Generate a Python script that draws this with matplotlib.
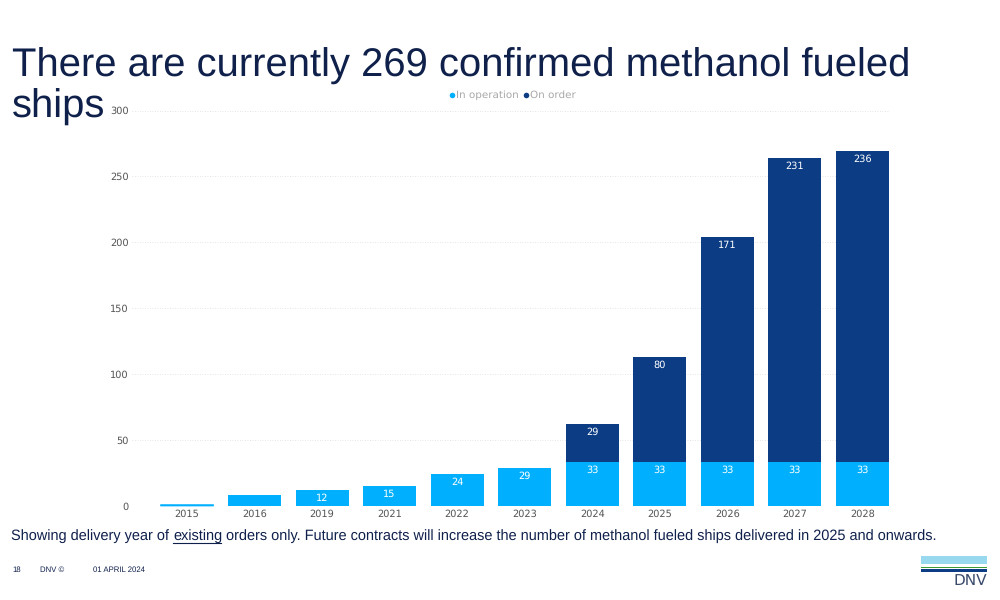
import matplotlib
matplotlib.use("Agg")
import numpy as np
import matplotlib.pyplot as plt
from matplotlib.patches import Rectangle

# hinted widths jump between font sizes, which made the long footnote hard to fit
plt.rcParams['text.hinting'] = 'none'

years = ['2015', '2016', '2019', '2021', '2022', '2023', '2024', '2025', '2026', '2027', '2028']
in_operation = [1, 8, 12, 15, 24, 29, 33, 33, 33, 33, 33]
on_order = [0, 0, 0, 0, 0, 0, 29, 80, 171, 231, 236]
# the two smallest bars have no label in the original
op_labels = ['', '', '12', '15', '24', '29', '33', '33', '33', '33', '33']
order_labels = ['', '', '', '', '', '', '29', '80', '171', '231', '236']
y_ticks = [0, 50, 100, 150, 200, 250, 300]

W, H = 1000, 600
LIGHT = '#00b0ff'
DARK = '#0b3c84'
NAVY = '#0f204b'
SANS = 'Liberation Sans'
CHART = 'DejaVu Sans'

fig = plt.figure(figsize=(10, 6), dpi=100, facecolor='white')

# axes placed in pixels: x 132-890, y=0 at 506, y=300 at 110.5
ax = fig.add_axes([132 / W, 1 - 506 / H, (890 - 132) / W, (506 - 110.5) / H])
ax.patch.set_alpha(0)
x = np.arange(len(years))
op_bars = ax.bar(x, in_operation, width=0.785, color=LIGHT, zorder=3)
# the 2015 bar is barely a pixel tall, an edge keeps it visibly blue
op_bars[0].set_edgecolor(LIGHT)
op_bars[0].set_linewidth(0.5)
op_bars[0].set_snap(False)
op_bars[0].set_clip_on(False)
# skip the empty on-order bars, they leave a dark hairline otherwise
has_order = [i for i in x if on_order[i] > 0]
ax.bar(has_order, [on_order[i] for i in has_order], width=0.785,
       bottom=[in_operation[i] for i in has_order], color=DARK, zorder=3)
ax.set_xlim(-0.815, 10.41)
ax.set_ylim(0, 300)

for i in x:
    if op_labels[i]:
        ax.annotate(op_labels[i], (i, in_operation[i]), xytext=(0, -3), textcoords='offset pixels',
                    ha='center', va='top', fontsize=7, color='white', family=CHART, zorder=4)
    if order_labels[i]:
        top = in_operation[i] + on_order[i]
        ax.annotate(order_labels[i], (i, top), xytext=(0, -3), textcoords='offset pixels',
                    ha='center', va='top', fontsize=7, color='white', family=CHART, zorder=4)

ax.set_xticks(x, years)
ax.set_yticks(y_ticks)
ax.tick_params(length=0, labelsize=7, labelcolor='#555555')
ax.tick_params(axis='x', pad=2)
ax.tick_params(axis='y', pad=2.5)
for lab in ax.get_xticklabels() + ax.get_yticklabels():
    lab.set_family(CHART)
ax.grid(axis='y', color='#dddddd', linestyle=(0, (1, 2)), linewidth=0.6, zorder=0)
ax.set_axisbelow(True)
for s in ax.spines.values():
    s.set_visible(False)

# legend drawn by hand to keep the tight marker/text spacing
fig.text(455.5 / W, 1 - 95 / H, 'In operation', fontsize=7.5, color='#a8a8a8', family=CHART, va='center')
fig.text(530 / W, 1 - 95 / H, 'On order', fontsize=7.5, color='#a8a8a8', family=CHART, va='center')
fig.add_artist(plt.Line2D([451.5 / W], [1 - 95 / H], marker='o', ms=4, color=LIGHT, mew=0))
fig.add_artist(plt.Line2D([525.5 / W], [1 - 95 / H], marker='o', ms=4, color=DARK, mew=0))

# title
fig.text(12 / W, 1 - 66.5 / H, 'There are currently 269 confirmed methanol fueled', fontsize=28.84,
         color=NAVY, family=SANS, va='center')
fig.text(12 / W, 1 - 107 / H, 'ships', fontsize=28.84, color=NAVY, family=SANS, va='center')

# footnote, split so "existing" can be underlined
renderer = fig.canvas.get_renderer()
fx = 11
note_y = 1 - 536 / H
note_size = 10.46
parts = ['Showing delivery year of ', 'existing',
         ' orders only. Future contracts will increase the number of methanol fueled ships delivered in 2025 and onwards.']
# measure with a marker char since trailing spaces are not counted
def text_width(s):
    t = fig.text(0, 0, s + '|', fontsize=note_size, family=SANS)
    w1 = t.get_window_extent(renderer).width
    t.set_text('|')
    w2 = t.get_window_extent(renderer).width
    t.remove()
    return w1 - w2

for j, part in enumerate(parts):
    fig.text(fx / W, note_y, part, fontsize=note_size, color=NAVY, family=SANS, va='center')
    w = text_width(part)
    if j == 1:
        fig.add_artist(plt.Line2D([fx / W, (fx + w - 1) / W], [1 - 542.5 / H] * 2, color=NAVY, lw=0.8))
    fx += w

# footer
fig.text(12 / W, 1 - 570 / H, '18', fontsize=5.6, color=NAVY, family=SANS, va='center')
fig.text(40 / W, 1 - 570 / H, 'DNV ©', fontsize=5.6, color=NAVY, family=SANS, va='center')
fig.text(93 / W, 1 - 570 / H, '01 APRIL 2024', fontsize=5.6, color=NAVY, family=SANS, va='center')

# logo
fig.add_artist(Rectangle((921 / W, 1 - 564 / H), 66 / W, 8 / H, transform=fig.transFigure, color='#99d9f0', lw=0))
fig.add_artist(Rectangle((921 / W, 1 - 568 / H), 66 / W, 1.3 / H, transform=fig.transFigure, color='#3f9c35', lw=0))
fig.add_artist(Rectangle((921 / W, 1 - 572.3 / H), 66 / W, 3 / H, transform=fig.transFigure, color=DARK, lw=0))
fig.text(987 / W, 1 - 580.5 / H, 'DNV', fontsize=11, color='#3a4a6b', family=CHART, va='center', ha='right')

fig.savefig('out.png', dpi=100)
